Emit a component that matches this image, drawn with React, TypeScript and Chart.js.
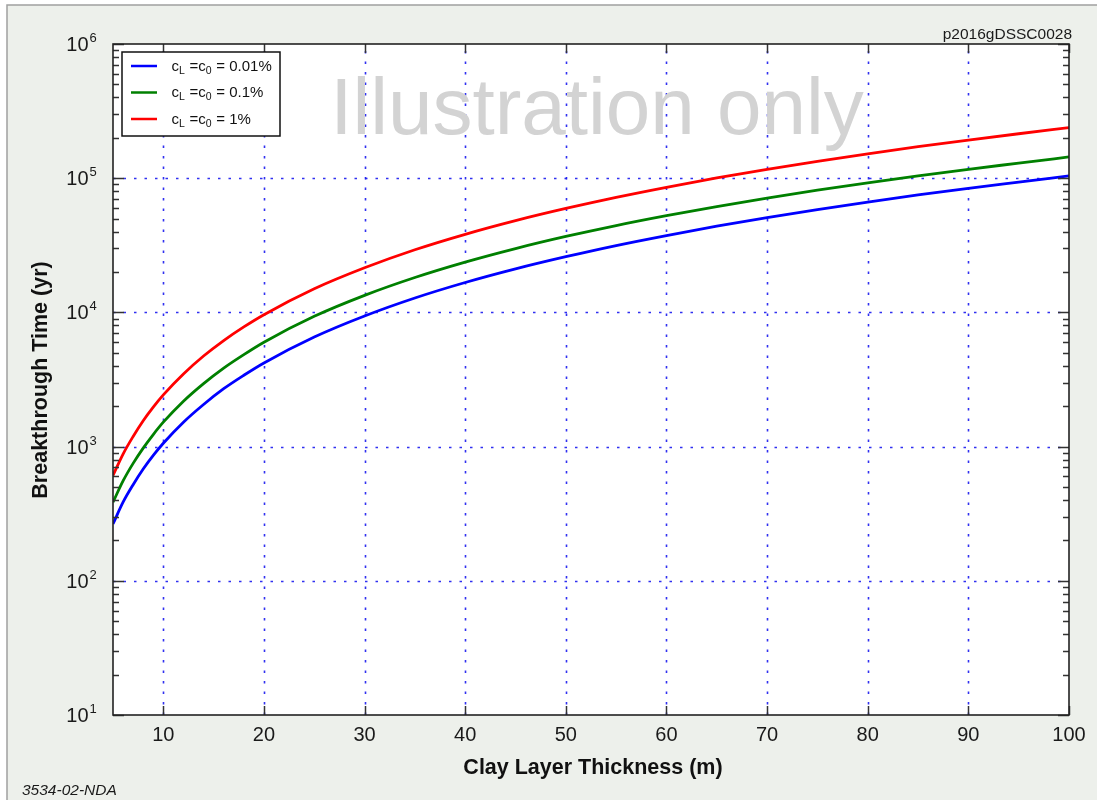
import React, { useEffect, useRef } from "react";
import { Chart, registerables } from "chart.js";

Chart.register(...registerables);

const THICKNESS = [5, 6, 7, 8, 9, 10, 12, 14, 16, 18, 20, 25, 30, 35, 40, 45, 50, 55, 60, 65, 70, 75, 80, 85, 90, 95, 100];
const BLUE_SERIES = [265, 385, 520, 680, 860, 1060, 1520, 2060, 2700, 3400, 4200, 6550, 9400, 12800, 16700, 21100, 26000, 31500, 37400, 43900, 50900, 58400, 66400, 75000, 84000, 93500, 104000];
const GREEN_SERIES = [385, 555, 750, 975, 1230, 1520, 2180, 2950, 3850, 4850, 6000, 9350, 13400, 18200, 23700, 29900, 36800, 44400, 52600, 61500, 71100, 81400, 92400, 104000, 116500, 129500, 144000];
const RED_SERIES = [610, 880, 1190, 1560, 1970, 2430, 3480, 4730, 6170, 7800, 9620, 15000, 21500, 29300, 38200, 48300, 59500, 72000, 85600, 100400, 116400, 133600, 152000, 171600, 192400, 214400, 238000];
const SERIES_LABELS = ["0.01%", "0.1%", "1%"];
const SERIES_COLORS = ["#0000ff", "#008000", "#ff0000"];
const X_TICKS = [10, 20, 30, 40, 50, 60, 70, 80, 90, 100];
const Y_DECADES = [10, 100, 1000, 10000, 100000, 1000000];
const Y_EXPONENTS = ["1", "2", "3", "4", "5", "6"];
const X_TITLE = "Clay Layer Thickness (m)";
const Y_TITLE = "Breakthrough Time (yr)";
const WATERMARK = "Illustration only";
const CODE_TOP = "p2016gDSSC0028";
const CODE_BOTTOM = "3534-02-NDA";

const FONT = "'Liberation Sans', Arial, Helvetica, sans-serif";
const GRID_COLOR = "rgba(25,25,240,0.9)";

const decorPlugin = {
  id: "decor",
  beforeDraw(chart: any) {
    const { ctx, width, height, chartArea: a } = chart;
    ctx.save();
    ctx.fillStyle = "#ffffff";
    ctx.fillRect(0, 0, width, height);
    ctx.fillStyle = "rgb(237,240,235)";
    ctx.fillRect(7, 5, width - 7, height - 5);
    ctx.strokeStyle = "#a0a0a0";
    ctx.lineWidth = 1.5;
    ctx.beginPath();
    ctx.moveTo(7, height);
    ctx.lineTo(7, 5);
    ctx.lineTo(width, 5);
    ctx.stroke();
    ctx.fillStyle = "#ffffff";
    ctx.fillRect(a.left, a.top, a.right - a.left, a.bottom - a.top);
    ctx.restore();
  },
  beforeDatasetsDraw(chart: any) {
    const { ctx, chartArea: a, scales } = chart;
    const xs = scales.x;
    const ys = scales.y;
    ctx.save();
    ctx.strokeStyle = GRID_COLOR;
    ctx.lineWidth = 1.6;
    ctx.setLineDash([2.5, 8]);
    X_TICKS.forEach((v) => {
      const px = Math.round(xs.getPixelForValue(v)) + 0.5;
      if (px > a.right - 2) return;
      ctx.beginPath();
      ctx.moveTo(px, a.bottom);
      ctx.lineTo(px, a.top);
      ctx.stroke();
    });
    Y_DECADES.forEach((v) => {
      const py = Math.round(ys.getPixelForValue(v)) + 0.5;
      if (py < a.top + 2 || py > a.bottom - 2) return;
      ctx.beginPath();
      ctx.moveTo(a.left, py);
      ctx.lineTo(a.right, py);
      ctx.stroke();
    });
    ctx.setLineDash([]);
    // watermark
    ctx.fillStyle = "#d3d3d3";
    ctx.font = `80px ${FONT}`;
    ctx.textAlign = "center";
    ctx.textBaseline = "alphabetic";
    ctx.fillText(WATERMARK, 597, 134);
    ctx.restore();
  },
  afterDatasetsDraw(chart: any) {
    const { ctx, chartArea: a, scales } = chart;
    const xs = scales.x;
    const ys = scales.y;
    ctx.save();
    // ticks
    ctx.strokeStyle = "#333333";
    ctx.lineWidth = 1.5;
    X_TICKS.forEach((v) => {
      const px = Math.round(xs.getPixelForValue(v)) + 0.5;
      ctx.beginPath();
      ctx.moveTo(px, a.bottom);
      ctx.lineTo(px, a.bottom - 9);
      ctx.moveTo(px, a.top);
      ctx.lineTo(px, a.top + 9);
      ctx.stroke();
    });
    for (let d = 0; d < Y_DECADES.length; d++) {
      for (let m = 1; m <= 9; m++) {
        if (d === Y_DECADES.length - 1 && m > 1) break;
        const v = Y_DECADES[d] * m;
        const py = Math.round(ys.getPixelForValue(v)) + 0.5;
        const len = m === 1 ? 11 : 6;
        ctx.beginPath();
        ctx.moveTo(a.left, py);
        ctx.lineTo(a.left + len, py);
        ctx.moveTo(a.right, py);
        ctx.lineTo(a.right - len, py);
        ctx.stroke();
      }
    }
    // plot frame
    ctx.strokeStyle = "#222222";
    ctx.lineWidth = 1.6;
    ctx.strokeRect(a.left, a.top, a.right - a.left, a.bottom - a.top);

    // y tick labels
    ctx.fillStyle = "#1a1a1a";
    ctx.textBaseline = "alphabetic";
    Y_DECADES.forEach((v, i) => {
      const py = ys.getPixelForValue(v);
      ctx.font = `20px ${FONT}`;
      ctx.textAlign = "right";
      ctx.fillText("10", 88.5, py + 7);
      ctx.font = `13px ${FONT}`;
      ctx.textAlign = "left";
      ctx.fillText(Y_EXPONENTS[i], 89.5, py - 2);
    });

    // axis titles
    ctx.font = `bold 21.5px ${FONT}`;
    ctx.textAlign = "center";
    ctx.textBaseline = "middle";
    ctx.fillStyle = "#111111";
    ctx.fillText(X_TITLE, 593, 768);
    ctx.save();
    ctx.translate(41, 380);
    ctx.rotate(-Math.PI / 2);
    ctx.fillText(Y_TITLE, 0, 0);
    ctx.restore();

    // corner codes
    ctx.font = `15.5px ${FONT}`;
    ctx.textAlign = "right";
    ctx.textBaseline = "alphabetic";
    ctx.fillStyle = "#1a1a1a";
    ctx.fillText(CODE_TOP, 1072, 39);
    ctx.font = `italic 15.5px ${FONT}`;
    ctx.textAlign = "left";
    ctx.fillText(CODE_BOTTOM, 22, 795);

    // legend
    const bx = 122, by = 52, bw = 158, bh = 84;
    ctx.fillStyle = "#ffffff";
    ctx.fillRect(bx, by, bw, bh);
    ctx.strokeStyle = "#111111";
    ctx.lineWidth = 1.5;
    ctx.strokeRect(bx, by, bw, bh);
    const rowY = [66, 92.5, 119];
    SERIES_LABELS.forEach((lab, i) => {
      const y = rowY[i];
      ctx.strokeStyle = SERIES_COLORS[i];
      ctx.lineWidth = 2.5;
      ctx.beginPath();
      ctx.moveTo(131, y);
      ctx.lineTo(157, y);
      ctx.stroke();
      ctx.fillStyle = "#111111";
      ctx.textAlign = "left";
      let x = 171.5;
      const base = y + 4.5;
      const parts: [string, boolean][] = [["c", false], ["L", true], [" =c", false], ["0", true], [" = " + lab, false]];
      parts.forEach(([t, sub]) => {
        ctx.font = sub ? `10.5px ${FONT}` : `15px ${FONT}`;
        ctx.fillText(t, x, sub ? base + 3 : base);
        x += ctx.measureText(t).width + (sub ? 0.5 : 0);
      });
    });
    ctx.restore();
  },
};

export default function App() {
  const ref = useRef<HTMLCanvasElement | null>(null);
  useEffect(() => {
    if (!ref.current) return;
    const mk = (vals: number[]) => THICKNESS.map((x, i) => ({ x, y: vals[i] }));
    const chart = new Chart(ref.current, {
      type: "line",
      data: {
        datasets: [BLUE_SERIES, GREEN_SERIES, RED_SERIES].map((vals, i) => ({
          label: SERIES_LABELS[i],
          data: mk(vals),
          borderColor: SERIES_COLORS[i],
          borderWidth: 2.8,
          pointRadius: 0,
          fill: false,
          cubicInterpolationMode: "monotone" as const,
        })),
      },
      options: {
        responsive: false,
        animation: false,
        events: [],
        layout: { padding: { left: 0, right: 28, top: 44, bottom: 0 } },
        plugins: { legend: { display: false }, tooltip: { enabled: false } },
        scales: {
          x: {
            type: "linear",
            min: 5,
            max: 100,
            grid: { display: false, drawTicks: false },
            border: { display: false },
            afterBuildTicks: (s: any) => {
              s.ticks = X_TICKS.map((v) => ({ value: v }));
            },
            afterFit: (s: any) => {
              s.height = 85;
            },
            ticks: {
              autoSkip: false,
              maxRotation: 0,
              padding: 8,
              color: "#1a1a1a",
              font: { family: FONT, size: 20 },
              callback: (v: any) => String(v),
            },
          },
          y: {
            type: "logarithmic",
            min: 10,
            max: 1000000,
            grid: { display: false, drawTicks: false },
            border: { display: false },
            ticks: { display: false },
            afterFit: (s: any) => {
              s.width = 113;
            },
          },
        },
      },
      plugins: [decorPlugin],
    } as any);
    return () => chart.destroy();
  }, []);
  return (
    <div style={{ position: "absolute", left: 0, top: 0, width: 1097, height: 800 }}>
      <canvas ref={ref} width={1097} height={800} />
    </div>
  );
}
